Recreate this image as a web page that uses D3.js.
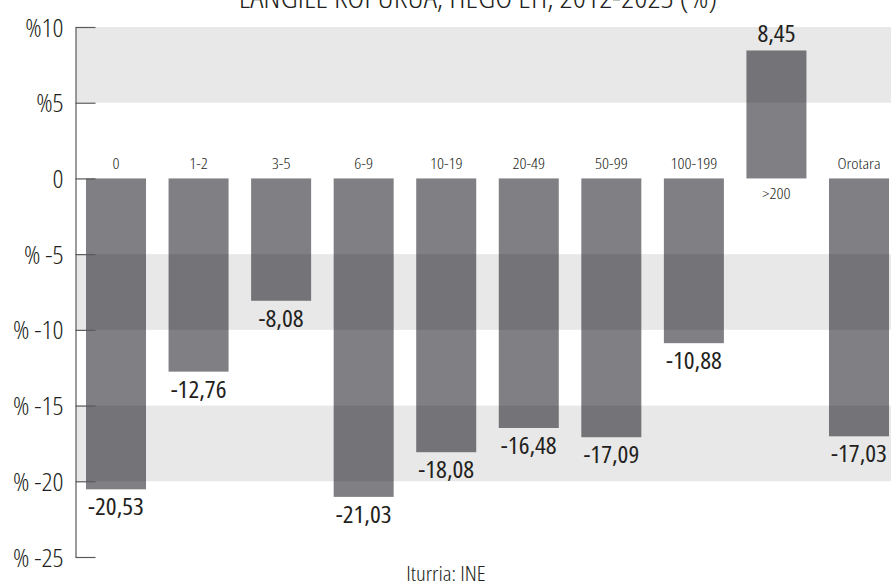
<!DOCTYPE html>
<html><head><meta charset="utf-8">
<script src="https://cdn.jsdelivr.net/npm/d3@7"></script>
<style>
html,body{margin:0;padding:0;background:#fff;}
svg text{font-family:"Open Sans",sans-serif;font-stretch:75%;font-weight:400;fill:#231f20;}
</style></head>
<body><svg id="c" width="891" height="583"></svg>
<script>
const categories = ["0","1-2","3-5","6-9","10-19","20-49","50-99","100-199",">200","Orotara"];
const values = [-20.53,-12.76,-8.08,-21.03,-18.08,-16.48,-17.09,-10.88,8.45,-17.03];
const tickValues = [10,5,0,-5,-10,-15,-20,-25];
const tickLabels = ["%10","%5","0","% -5","% -10","% -15","% -20","% -25"];
const bands = [[10,5],[-5,-10],[-15,-20]];
const title = "LANGILE KOPURUA, HEGO EH, 2012-2023 (%)";
const source = "Iturria: INE";

const svg = d3.select("#c");
const W = 891;
const y = d3.scaleLinear().domain([-25,10]).range([557,27]);
const x = d3.scaleBand().domain(categories).range([86,889]).paddingInner(0.273).paddingOuter(0);
const fmt = v => v.toFixed(2).replace(".",",");
const wide = (sel, px, py, sx) => sel.attr("transform", (d,i)=>`translate(${px(d,i)},${py(d,i)}) scale(${sx},1)`);

svg.append("g").selectAll("rect").data(values).join("rect")
  .attr("x",(d,i)=>x(categories[i]))
  .attr("width",x.bandwidth())
  .attr("y",d=>y(Math.max(0,d)))
  .attr("height",d=>Math.abs(y(d)-y(0)))
  .attr("fill","#808084");

svg.append("g").selectAll("rect").data(bands).join("rect")
  .attr("x",76).attr("width",W-76)
  .attr("y",d=>y(d[0])).attr("height",d=>y(d[1])-y(d[0]))
  .attr("fill","#000").attr("fill-opacity",0.09);

const axis = d3.axisLeft(y).tickValues(tickValues).tickSize(0).tickFormat((d,i)=>tickLabels[i]);
const ag = svg.append("g").attr("transform","translate(75.5,0)").call(axis);
ag.attr("font-family",null).attr("font-size",null);
ag.select(".domain").attr("stroke","#58595b").attr("stroke-width",1.2);
ag.selectAll(".tick line").attr("x2",20).attr("stroke","#58595b").attr("stroke-width",1.2);
ag.selectAll(".tick text").attr("x",-12/1.08).attr("dy","0.36em").attr("transform","scale(1.08,1)")
  .style("font-size","25px").style("font-weight","300");

wide(svg.append("g").selectAll("text").data(categories).join("text")
  .attr("text-anchor","middle").style("font-size","15px").style("font-weight","300")
  .text(d=>d),
  d=>x(d)+x.bandwidth()/2, (d,i)=>values[i]<0? y(0)-9 : y(0)+21, 1.15);

wide(svg.append("g").selectAll("text").data(values).join("text")
  .attr("text-anchor","middle").style("font-size","24px").style("font-weight","400")
  .text(d=>fmt(d)),
  (d,i)=>x(categories[i])+x.bandwidth()/2, d=>d<0? y(d)+26 : y(d)-8, 1.06);

wide(svg.append("text").datum(title).attr("text-anchor","middle")
  .style("font-size","30px").style("font-weight","300").text(title),
  ()=>478, ()=>8, 1.08);
wide(svg.append("text").datum(source).attr("text-anchor","middle")
  .style("font-size","20px").style("font-weight","300").text(source),
  ()=>446, ()=>581, 1.14);
</script></body></html>
